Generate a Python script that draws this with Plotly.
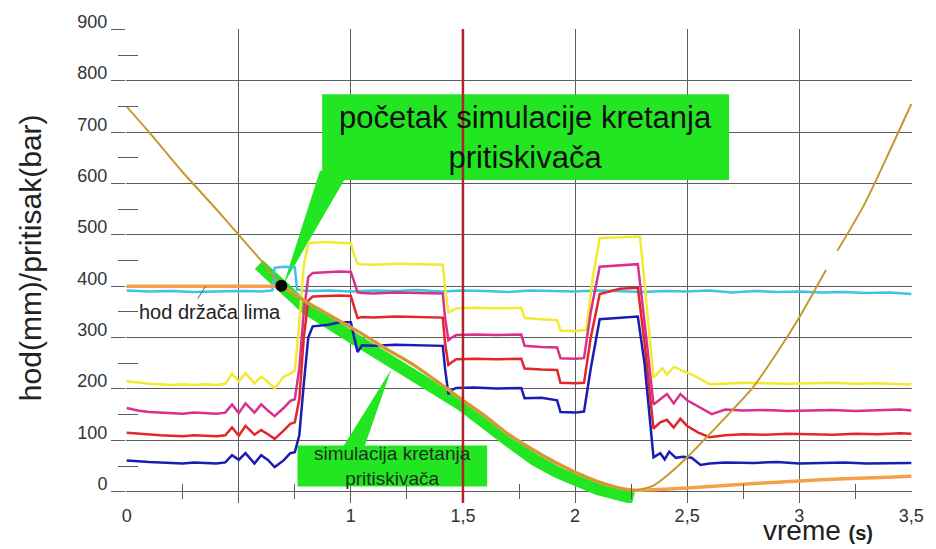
import plotly.graph_objects as go

# ---------------- data ----------------
# time axis ticks
x_tick_vals = [0, 0.5, 1, 1.5, 2, 2.5, 3, 3.5]
x_tick_text = ["0", "", "1", "1,5", "2", "2,5", "3", "3,5"]
x_minor_vals = [0.25, 0.75, 1.25, 1.75, 2.25, 2.75, 3.25]
y_tick_vals = [0, 100, 200, 300, 400, 500, 600, 700, 800, 900]
y_minor_vals = [50, 150, 250, 350, 450, 550, 650, 750, 850]

cursor_time = 1.5

blue_t = [0, 0.05, 0.1, 0.15, 0.2, 0.25, 0.3, 0.35, 0.4, 0.44,
          0.47, 0.5, 0.53, 0.57, 0.6, 0.63, 0.66, 0.7, 0.73, 0.75,
          0.77, 0.79, 0.81, 0.83, 0.9, 0.95, 1.0, 1.015, 1.03, 1.05,
          1.1, 1.2, 1.3, 1.41, 1.42, 1.435, 1.45, 1.47, 1.55, 1.65,
          1.76, 1.775, 1.85, 1.92, 1.935, 2.0, 2.04, 2.07, 2.11, 2.2,
          2.28, 2.31, 2.35, 2.38, 2.4, 2.42, 2.45, 2.48, 2.52, 2.56,
          2.6, 2.67, 2.8, 2.9, 3.0, 3.1, 3.2, 3.3, 3.4, 3.5]
blue_v = [61, 59, 58, 57, 56, 55, 57, 56, 55, 57,
          71, 62, 75, 55, 71, 62, 48, 61, 75, 77,
          110, 210, 300, 322, 325, 330, 330, 300, 272, 285,
          284, 286, 285, 284, 240, 190, 198, 202, 203, 201,
          202, 182, 183, 178, 155, 154, 156, 240, 336, 338,
          341, 250, 67, 75, 63, 78, 66, 68, 66, 52,
          55, 57, 56, 58, 55, 56, 57, 55, 56, 56]

red_t = [0, 0.05, 0.1, 0.15, 0.2, 0.25, 0.3, 0.35, 0.4, 0.44,
         0.47, 0.5, 0.53, 0.57, 0.6, 0.63, 0.66, 0.7, 0.73, 0.75,
         0.77, 0.79, 0.81, 0.83, 0.9, 0.95, 1.0, 1.015, 1.03, 1.05,
         1.1, 1.2, 1.3, 1.41, 1.42, 1.435, 1.45, 1.47, 1.55, 1.65,
         1.76, 1.775, 1.85, 1.92, 1.935, 2.0, 2.04, 2.07, 2.11, 2.2,
         2.28, 2.31, 2.35, 2.38, 2.41, 2.44, 2.47, 2.5, 2.55, 2.6,
         2.67, 2.75, 2.85, 2.95, 3.05, 3.15, 3.25, 3.35, 3.45, 3.5]
red_v = [115, 113, 111, 110, 109, 108, 110, 109, 108, 110,
         125, 109, 128, 111, 120, 112, 103, 119, 132, 135,
         180, 300, 372, 380, 381, 382, 381, 360, 338, 340,
         339, 341, 340, 339, 290, 247, 252, 258, 259, 258,
         259, 240, 238, 237, 212, 211, 212, 300, 385, 395,
         397, 290, 123, 135, 140, 125, 142, 128, 115, 106,
         110, 112, 111, 113, 112, 111, 113, 112, 114, 113]

magenta_t = [0, 0.05, 0.1, 0.15, 0.2, 0.25, 0.3, 0.35, 0.4, 0.44,
             0.47, 0.5, 0.53, 0.57, 0.6, 0.63, 0.66, 0.7, 0.73, 0.75,
             0.77, 0.79, 0.81, 0.83, 0.9, 0.95, 1.0, 1.015, 1.03, 1.05,
             1.1, 1.2, 1.3, 1.41, 1.42, 1.435, 1.45, 1.47, 1.55, 1.65,
             1.76, 1.775, 1.85, 1.92, 1.935, 2.0, 2.04, 2.07, 2.11, 2.2,
             2.28, 2.31, 2.35, 2.38, 2.41, 2.44, 2.47, 2.5, 2.55, 2.61,
             2.67, 2.75, 2.85, 2.95, 3.05, 3.15, 3.25, 3.35, 3.45, 3.5]
magenta_v = [163, 158, 155, 154, 153, 152, 154, 153, 152, 154,
             170, 153, 172, 154, 170, 158, 147, 163, 177, 180,
             240, 350, 418, 426, 428, 429, 428, 410, 388, 387,
             386, 388, 387, 386, 340, 295, 300, 305, 306, 305,
             306, 284, 282, 281, 260, 259, 260, 350, 438, 441,
             443, 330, 170, 180, 190, 172, 190, 178, 165, 151,
             160, 158, 159, 157, 158, 159, 157, 158, 160, 158]

yellow_t = [0, 0.05, 0.1, 0.15, 0.2, 0.25, 0.3, 0.35, 0.4, 0.44,
            0.47, 0.5, 0.53, 0.57, 0.6, 0.63, 0.66, 0.7, 0.73, 0.75,
            0.77, 0.79, 0.81, 0.83, 0.9, 0.95, 1.0, 1.015, 1.03, 1.05,
            1.1, 1.2, 1.3, 1.41, 1.42, 1.435, 1.45, 1.47, 1.55, 1.65,
            1.76, 1.775, 1.85, 1.92, 1.935, 2.0, 2.05, 2.08, 2.11, 2.2,
            2.29, 2.32, 2.35, 2.39, 2.41, 2.44, 2.48, 2.54, 2.6, 2.67,
            2.75, 2.85, 2.95, 3.05, 3.15, 3.25, 3.35, 3.45, 3.5]
yellow_v = [215, 212, 210, 209, 208, 209, 208, 209, 208, 210,
            230, 215, 231, 211, 224, 214, 201, 224, 230, 236,
            330, 440, 483, 485, 486, 485, 484, 460, 444, 443,
            442, 444, 443, 442, 400, 349, 352, 357, 358, 357,
            358, 338, 336, 334, 314, 313, 315, 420, 494, 496,
            497, 360, 222, 240, 228, 243, 236, 224, 209, 211,
            212, 211, 210, 211, 212, 210, 211, 209, 209]

cyan_t = [0, 0.1, 0.2, 0.3, 0.4, 0.5, 0.6, 0.65, 0.66, 0.7,
          0.75, 0.76, 0.8, 0.9, 1.0, 1.1, 1.2, 1.3, 1.4, 1.5,
          1.6, 1.7, 1.8, 1.9, 2.0, 2.1, 2.2, 2.3, 2.4, 2.5,
          2.6, 2.7, 2.8, 2.9, 3.0, 3.1, 3.2, 3.3, 3.4, 3.5]
cyan_v = [392, 390, 391, 389, 390, 391, 390, 392, 436, 438,
          437, 394, 391, 392, 390, 392, 391, 393, 390, 392,
          391, 389, 392, 391, 390, 392, 391, 389, 391, 390,
          392, 388, 391, 389, 390, 388, 389, 387, 388, 385]

# press ram stroke (olive line); None marks the small break in the trace
ram_t = [0, 0.1, 0.25, 0.4, 0.5, 0.6, 0.69, 0.8, 0.9, 1.04,
         1.15, 1.28, 1.4, 1.5, 1.6, 1.69, 1.8, 1.9, 2.01, 2.1,
         2.2, 2.27, 2.35, 2.42, 2.5, 2.65, 2.79, 2.9, 3.0, 3.12,
         3.145, 3.17, 3.29, 3.4, 3.5]
ram_v = [750, 700, 622, 550, 500, 450, 402, 370, 345, 310,
         280, 247, 210, 178, 147, 116, 85, 60, 36, 20,
         7, 3, 12, 35, 67, 135, 201, 270, 339, 432,
         None, 469, 559, 660, 755]

# blank holder stroke (orange line)
holder_t = [0, 0.3, 0.62, 0.69, 0.8, 0.9, 1.04, 1.15, 1.28, 1.4, 1.5, 1.6,
            1.69, 1.8, 1.9, 2.01, 2.1, 2.2, 2.27, 2.4, 2.6, 2.8,
            3.0, 3.2, 3.4, 3.5]
holder_v = [400, 400, 400, 400, 370, 345, 310, 280, 247, 210, 178, 147,
            116, 85, 60, 36, 20, 7, 3, 5, 10, 16,
            21, 25, 28, 30]

# simulated punch motion (thick green band)
sim_t = [0.59, 0.69, 0.8, 0.97, 1.15, 1.335, 1.5, 1.69, 1.82, 1.92, 2.0, 2.1, 2.26]
sim_v = [442, 401, 357, 310, 262, 212, 167, 103, 62, 38, 22, 5, -13]

start_t = [0.69]
start_v = [401]

# ---------------- figure ----------------
FONT = "Liberation Sans, Arial, sans-serif"
GRID = "#5c5c5c"
GREEN = "#22E622"

fig = go.Figure()

fig.add_trace(go.Scatter(x=sim_t, y=sim_v, mode="lines", line=dict(color=GREEN, width=12),
                         hoverinfo="skip", showlegend=False))
fig.add_trace(go.Scatter(x=cyan_t, y=cyan_v, mode="lines", line=dict(color="#3CC3E6", width=2.5),
                         showlegend=False))
fig.add_trace(go.Scatter(x=yellow_t, y=yellow_v, mode="lines", line=dict(color="#F2EA2E", width=2.5),
                         showlegend=False))
fig.add_trace(go.Scatter(x=magenta_t, y=magenta_v, mode="lines", line=dict(color="#D8308C", width=2.5),
                         showlegend=False))
fig.add_trace(go.Scatter(x=red_t, y=red_v, mode="lines", line=dict(color="#E3262B", width=2.5),
                         showlegend=False))
fig.add_trace(go.Scatter(x=blue_t, y=blue_v, mode="lines", line=dict(color="#1C1CB4", width=2.5),
                         showlegend=False))
fig.add_trace(go.Scatter(x=holder_t, y=holder_v, mode="lines",
                         line=dict(color="#F4A24A", width=3.5, shape="spline", smoothing=0.5),
                         showlegend=False))
fig.add_trace(go.Scatter(x=ram_t, y=ram_v, mode="lines", connectgaps=False,
                         line=dict(color="#C49A2E", width=2, shape="spline", smoothing=0.6),
                         showlegend=False))
# start point drawn on the overlay axes (same scale) so it sits on top
fig.add_trace(go.Scatter(x=start_t, y=start_v, mode="markers", xaxis="x2", yaxis="y2",
                         marker=dict(color="black", size=12), showlegend=False))

fig.add_vline(x=cursor_time, line=dict(color="#B5212B", width=2.5))

# callout boxes and pointers
fig.add_shape(type="rect", xref="x", yref="y", x0=0.872, x1=2.687, y0=607, y1=774,
              fillcolor=GREEN, line=dict(width=0), layer="between")
fig.add_shape(type="path", xref="x", yref="y", path="M0.862,625 L0.995,625 L0.70,404 Z",
              fillcolor=GREEN, line=dict(width=0), layer="between")
fig.add_shape(type="rect", xref="x", yref="y", x0=0.762, x1=1.608, y0=10, y1=90,
              fillcolor=GREEN, line=dict(width=0), layer="between")
fig.add_shape(type="path", xref="x", yref="y", path="M0.955,80 L1.055,80 L1.18,238 Z",
              fillcolor=GREEN, line=dict(width=0), layer="between")

fig.add_annotation(x=1.78, y=690, xref="x", yref="y", showarrow=False,
                   text="početak simulacije kretanja<br>pritiskivača",
                   font=dict(family=FONT, size=31, color="#111111"))
fig.add_annotation(x=1.185, y=50, xref="x", yref="y", showarrow=False,
                   text="simulacija kretanja<br>pritiskivača",
                   font=dict(family=FONT, size=19, color="#1e2e1e"))
fig.add_annotation(x=0.045, y=350, xref="x", yref="y", xanchor="left", showarrow=False,
                   text="hod držača lima", font=dict(family=FONT, size=20, color="#222222"))
fig.add_annotation(x=0.352, y=400, ax=0.313, ay=373, xref="x", yref="y", axref="x", ayref="y",
                   text="", showarrow=True, arrowhead=0, arrowwidth=1, arrowcolor="#555555")
fig.add_annotation(x=-0.1206, y=0.517, xref="paper", yref="paper", xanchor="center", yanchor="middle",
                   textangle=-90, showarrow=False,
                   text="hod(mm)/pritisak(bar)", font=dict(family=FONT, size=30, color="#222222"))
fig.add_annotation(x=0.881, y=-0.059, xref="paper", yref="paper", xanchor="center", yanchor="middle",
                   showarrow=False,
                   text="vreme <span style='font-size:20px'><b>(s)</b></span>",
                   font=dict(family=FONT, size=28, color="#222222"))

fig.update_layout(
    width=936, height=549,
    margin=dict(l=126, r=14, t=23, b=46),
    paper_bgcolor="white", plot_bgcolor="white",
    font=dict(family=FONT, color="#333333"),
    xaxis=dict(range=[-0.003, 3.503], tickvals=x_tick_vals, ticktext=x_tick_text,
               showgrid=True, gridcolor=GRID, gridwidth=1.3, ticks="", zeroline=False,
               showline=False, tickfont=dict(size=18, color="#333333")),
    yaxis=dict(range=[-22, 901], tickvals=y_tick_vals, showgrid=True, gridcolor=GRID,
               gridwidth=1.3, ticks="outside", ticklen=14, tickcolor=GRID, tickwidth=1.3,
               zeroline=False, showline=False, ticklabelshift=-8, ticklabeloverflow="allow",
               tickfont=dict(size=18, color="#333333")),
    xaxis2=dict(overlaying="x", matches="x", anchor="free", position=0.0417, side="bottom",
                tickvals=x_minor_vals, ticks="outside", ticklen=15, tickcolor=GRID, tickwidth=1.3,
                showticklabels=False, showgrid=False, zeroline=False, showline=False),
    yaxis2=dict(overlaying="y", matches="y", anchor="free", position=0.0151, side="left",
                tickvals=y_minor_vals, ticks="outside", ticklen=20, tickcolor=GRID, tickwidth=1.3,
                showticklabels=False, showgrid=False, zeroline=False, showline=False),
)

fig.write_html("out.html", config={"displayModeBar": False},
               post_script="document.body.style.margin='0';document.body.style.overflow='hidden';")
